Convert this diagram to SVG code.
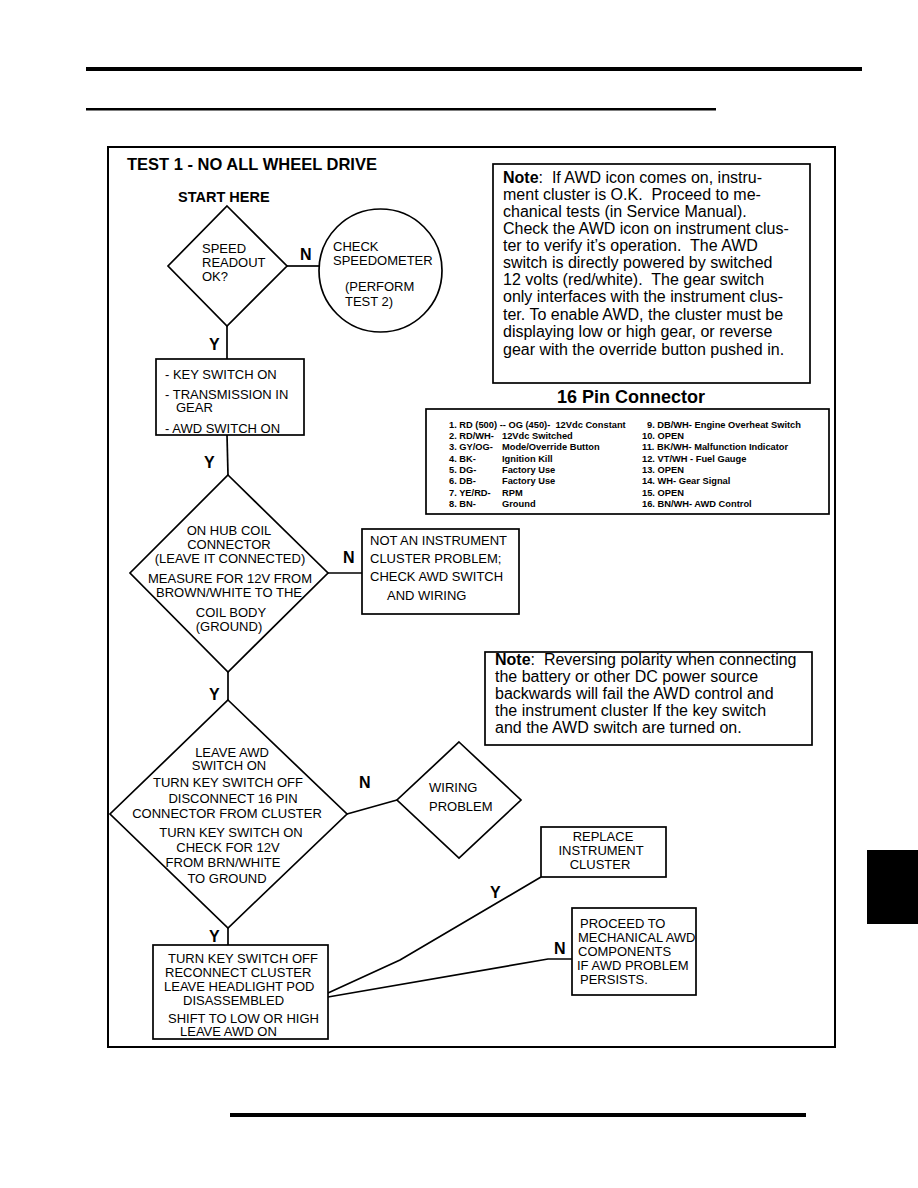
<svg xmlns="http://www.w3.org/2000/svg" width="918" height="1188" viewBox="0 0 918 1188">
<style>
.s{fill:#fff;stroke:#000;stroke-width:1.7}
.c{fill:none;stroke:#000;stroke-width:1.7}
text{font-family:"Liberation Sans",Arial,Helvetica,sans-serif;fill:#000;white-space:pre}
.t{font-size:13px}
.m{text-anchor:middle}
.lb{font-size:16px;font-weight:bold}
.n{font-size:16px}
.p{font-size:9.3px;font-weight:bold}
</style>
<rect width="918" height="1188" fill="#fff"/>
<rect x="86" y="67" width="776" height="4" fill="#000"/>
<rect x="86" y="108" width="630" height="2.5" fill="#000"/>
<rect x="230" y="1113" width="576" height="4" fill="#000"/>
<rect x="867" y="850" width="51" height="74" fill="#000"/>
<rect x="108" y="147" width="727" height="900" fill="none" stroke="#000" stroke-width="2"/>
<text x="127" y="170" style="font-size:16.5px;font-weight:bold">TEST 1 - NO ALL WHEEL DRIVE</text>
<text x="178" y="202" style="font-size:14.5px;font-weight:bold">START HERE</text>

<g id="connectors">
<line class="c" x1="227" y1="326" x2="227" y2="359"/>
<line class="c" x1="287" y1="266" x2="319" y2="266"/>
<line class="c" x1="227" y1="435" x2="228" y2="475"/>
<line class="c" x1="328" y1="573" x2="362" y2="573"/>
<line class="c" x1="228" y1="672" x2="228" y2="700"/>
<line class="c" x1="347" y1="814" x2="397" y2="800"/>
<line class="c" x1="228" y1="928" x2="228" y2="945"/>
<polyline class="c" points="328,993 400,960 541,877"/>
<polyline class="c" points="328,997 548,959 572,959"/>
<text class="lb" x="300" y="260">N</text>
<text class="lb" x="209" y="350">Y</text>
<text class="lb" x="204" y="468">Y</text>
<text class="lb" x="343" y="563">N</text>
<text class="lb" x="209" y="700">Y</text>
<text class="lb" x="359" y="788">N</text>
<text class="lb" x="209" y="942">Y</text>
<text class="lb" x="490" y="898">Y</text>
<text class="lb" x="554" y="954">N</text>
</g>

<g id="speed-readout">
<polygon class="s" points="227,206 287,266 227,326 168,266"/>
<text class="t" x="202" y="253">SPEED</text>
<text class="t" x="202" y="267">READOUT</text>
<text class="t" x="202" y="281">OK?</text>
</g>

<g id="check-speedometer">
<circle class="s" cx="380.5" cy="270.5" r="61.5"/>
<text class="t" x="333" y="251">CHECK</text>
<text class="t" x="333" y="265">SPEEDOMETER</text>
<text class="t" x="345" y="291">(PERFORM</text>
<text class="t" x="345" y="306">TEST 2)</text>
</g>

<g id="key-switch-on">
<rect class="s" x="156" y="359" width="148" height="76"/>
<text class="t" x="165" y="379">- KEY SWITCH ON</text>
<text class="t" x="165" y="399">- TRANSMISSION IN</text>
<text class="t" x="176" y="412">GEAR</text>
<text class="t" x="165" y="433">- AWD SWITCH ON</text>
</g>

<g id="hub-coil">
<polygon class="s" points="228,475 328,573 228,672 130,573"/>
<text class="t m" x="229" y="535">ON HUB COIL</text>
<text class="t m" x="229" y="549">CONNECTOR</text>
<text class="t m" x="230" y="563">(LEAVE IT CONNECTED)</text>
<text class="t m" x="230" y="583">MEASURE FOR 12V FROM</text>
<text class="t m" x="229" y="597">BROWN/WHITE TO THE</text>
<text class="t m" x="231" y="617">COIL BODY</text>
<text class="t m" x="229" y="631">(GROUND)</text>
</g>

<g id="not-cluster-problem">
<rect class="s" x="362" y="529" width="157" height="85"/>
<text class="t" x="370" y="545">NOT AN INSTRUMENT</text>
<text class="t" x="370" y="563">CLUSTER PROBLEM;</text>
<text class="t" x="370" y="581">CHECK AWD SWITCH</text>
<text class="t" x="387" y="600">AND WIRING</text>
</g>

<g id="check-brn-white">
<polygon class="s" points="228,700 347,814 228,928 110,814"/>
<text class="t m" x="232" y="757">LEAVE AWD</text>
<text class="t m" x="229" y="770">SWITCH ON</text>
<text class="t m" x="228" y="787">TURN KEY SWITCH OFF</text>
<text class="t m" x="233" y="803">DISCONNECT 16 PIN</text>
<text class="t m" x="227" y="818">CONNECTOR FROM CLUSTER</text>
<text class="t m" x="231" y="837">TURN KEY SWITCH ON</text>
<text class="t m" x="228" y="852">CHECK FOR 12V</text>
<text class="t m" x="223" y="867">FROM BRN/WHITE</text>
<text class="t m" x="227" y="883">TO GROUND</text>
</g>

<g id="wiring-problem">
<polygon class="s" points="459,742 521,800 459,858 397,800"/>
<text class="t" x="429" y="792">WIRING</text>
<text class="t" x="429" y="811">PROBLEM</text>
</g>

<g id="reconnect-cluster">
<rect class="s" x="153" y="945" width="175" height="94"/>
<text class="t" x="168" y="963">TURN KEY SWITCH OFF</text>
<text class="t" x="165" y="977">RECONNECT CLUSTER</text>
<text class="t" x="164" y="991">LEAVE HEADLIGHT POD</text>
<text class="t" x="183" y="1005">DISASSEMBLED</text>
<text class="t" x="168" y="1023">SHIFT TO LOW OR HIGH</text>
<text class="t" x="180" y="1036">LEAVE AWD ON</text>
</g>

<g id="replace-cluster">
<rect class="s" x="541" y="827" width="125" height="50"/>
<text class="t m" x="603" y="841">REPLACE</text>
<text class="t m" x="601" y="855">INSTRUMENT</text>
<text class="t m" x="600" y="869">CLUSTER</text>
</g>

<g id="proceed-mechanical">
<rect class="s" x="572" y="908" width="124" height="87"/>
<text class="t" x="580" y="928">PROCEED TO</text>
<text class="t" x="578" y="942">MECHANICAL AWD</text>
<text class="t" x="578" y="956">COMPONENTS</text>
<text class="t" x="577" y="970">IF AWD PROBLEM</text>
<text class="t" x="580" y="984">PERSISTS.</text>
</g>

<g id="note-awd-icon">
<rect class="s" x="493" y="164" width="317" height="219"/>
<text class="n" x="503" y="183"><tspan font-weight="bold">Note</tspan>:  If AWD icon comes on, instru-</text>
<text class="n" x="503" y="200">ment cluster is O.K.  Proceed to me-</text>
<text class="n" x="503" y="217">chanical tests (in Service Manual).</text>
<text class="n" x="503" y="234">Check the AWD icon on instrument clus-</text>
<text class="n" x="503" y="251">ter to verify it’s operation.  The AWD</text>
<text class="n" x="503" y="268">switch is directly powered by switched</text>
<text class="n" x="503" y="285">12 volts (red/white).  The gear switch</text>
<text class="n" x="503" y="302">only interfaces with the instrument clus-</text>
<text class="n" x="503" y="320">ter. To enable AWD, the cluster must be</text>
<text class="n" x="503" y="337">displaying low or high gear, or reverse</text>
<text class="n" x="503" y="355">gear with the override button pushed in.</text>
</g>

<g id="pin-connector">
<text x="631" y="403" style="font-size:18px;font-weight:bold;text-anchor:middle">16 Pin Connector</text>
<rect class="s" x="426" y="409" width="403" height="105"/>
<text class="p" x="449" y="428">1. RD (500) -- OG (450)-  12Vdc Constant</text>
<text class="p" x="449" y="439">2. RD/WH-</text><text class="p" x="502" y="439">12Vdc Switched</text>
<text class="p" x="449" y="450">3. GY/OG-</text><text class="p" x="502" y="450">Mode/Override Button</text>
<text class="p" x="449" y="462">4. BK-</text><text class="p" x="502" y="462">Ignition Kill</text>
<text class="p" x="449" y="473">5. DG-</text><text class="p" x="502" y="473">Factory Use</text>
<text class="p" x="449" y="484">6. DB-</text><text class="p" x="502" y="484">Factory Use</text>
<text class="p" x="449" y="496">7. YE/RD-</text><text class="p" x="502" y="496">RPM</text>
<text class="p" x="449" y="507">8. BN-</text><text class="p" x="502" y="507">Ground</text>
<text class="p" x="647" y="428">9. DB/WH- Engine Overheat Switch</text>
<text class="p" x="642" y="439">10. OPEN</text>
<text class="p" x="642" y="450">11. BK/WH- Malfunction Indicator</text>
<text class="p" x="642" y="462">12. VT/WH - Fuel Gauge</text>
<text class="p" x="642" y="473">13. OPEN</text>
<text class="p" x="642" y="484">14. WH- Gear Signal</text>
<text class="p" x="642" y="496">15. OPEN</text>
<text class="p" x="642" y="507">16. BN/WH- AWD Control</text>
</g>

<g id="note-polarity">
<rect class="s" x="485" y="652" width="327" height="93"/>
<text class="n" x="495" y="665"><tspan font-weight="bold">Note</tspan>:  Reversing polarity when connecting</text>
<text class="n" x="495" y="682">the battery or other DC power source</text>
<text class="n" x="495" y="699">backwards will fail the AWD control and</text>
<text class="n" x="495" y="716">the instrument cluster If the key switch</text>
<text class="n" x="495" y="733">and the AWD switch are turned on.</text>
</g>
</svg>
